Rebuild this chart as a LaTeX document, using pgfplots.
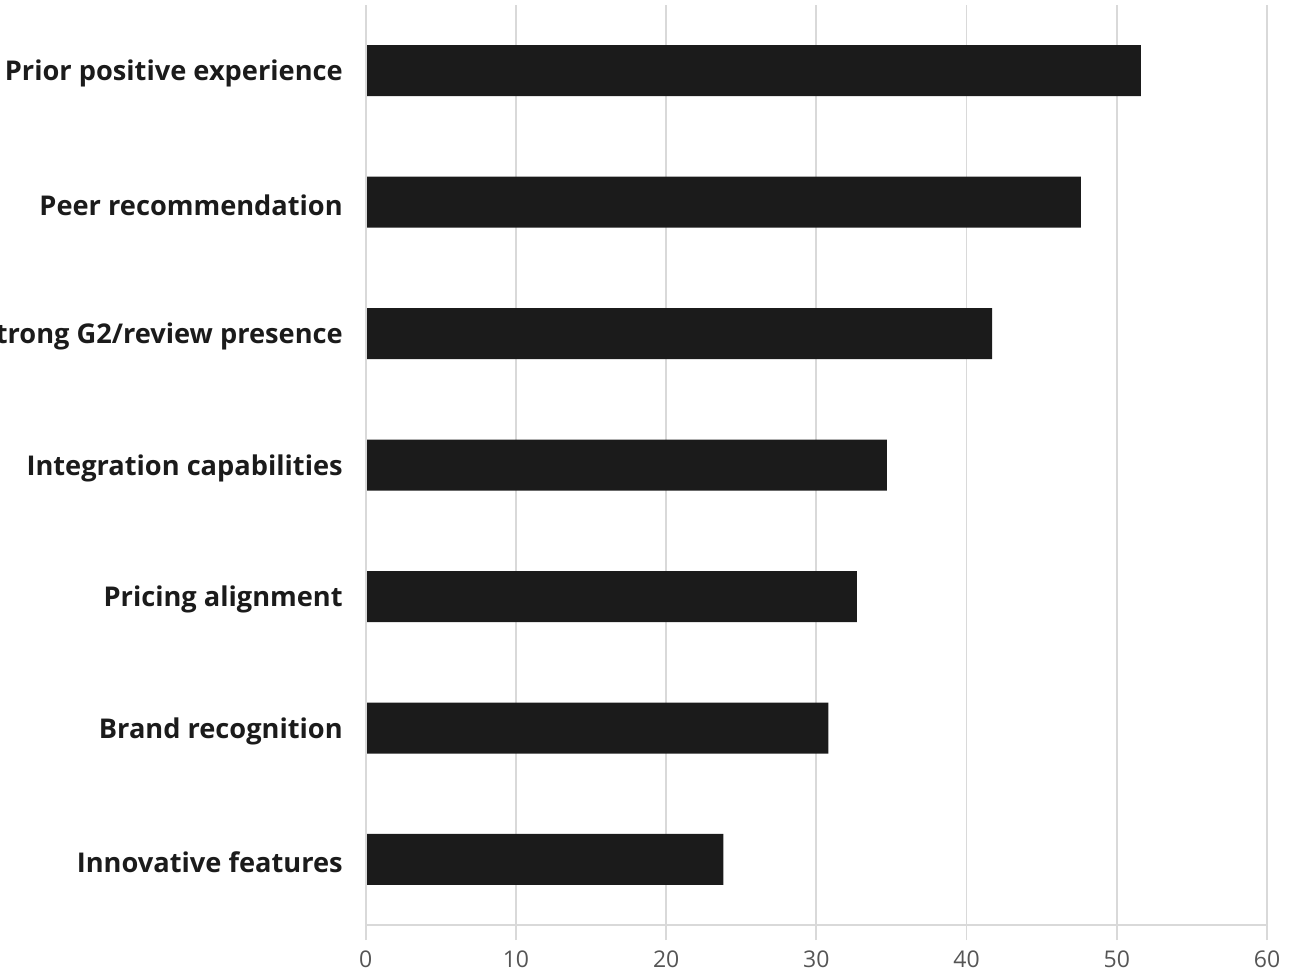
\documentclass[border=0pt]{standalone}
\usepackage{pgfplots}
\pgfplotsset{compat=1.18}
\usepackage{fontspec}
\setmainfont{Open Sans}
\definecolor{barc}{HTML}{1B1B1B}
\definecolor{gridc}{HTML}{D9D9D9}
\definecolor{tickc}{HTML}{555555}
\begin{document}
\begin{tikzpicture}
\begin{axis}[
  scale only axis,
  width=450.5pt, height=460pt,
  xbar, bar width=25.5pt,
  xmin=0, xmax=60,
  ymin=-0.5, ymax=6.5,
  xtick={0,10,20,30,40,50,60},
  ytick={0,1,2,3,4,5,6},
  yticklabels={Innovative features,Brand recognition,Pricing alignment,Integration capabilities,Strong G2/review presence,Peer recommendation,Prior positive experience},
  yticklabel style={font=\fontsize{13.6}{16}\selectfont\bfseries, text=barc, xshift=-0.5pt, yshift=-1.5pt},
  xticklabel style={font=\fontsize{11.5}{13}\selectfont, text=tickc, yshift=-2pt},
  /pgf/number format/assume math mode=true,
  xmajorgrids, grid style={gridc, line width=0.9pt},
  axis line style={draw=none},
  axis x line*=bottom,
  x axis line style={draw=gridc, line width=0.9pt, -},
  y axis line style={draw=none},
  major tick length=7.5pt,
  xtick style={draw=gridc, line width=0.9pt},
  ytick style={draw=none},
  tick align=outside,
  clip=false,
]
\addplot[fill=barc, draw=none] coordinates {
  (23.8,0) (30.8,1) (32.7,2) (34.7,3) (41.7,4) (47.6,5) (51.6,6)
};
\draw[gridc, line width=0.9pt] (axis cs:0,-0.5) -- (axis cs:0,6.5);
\coordinate (ll) at (rel axis cs:0,0);
\coordinate (ur) at (rel axis cs:1,1);
\end{axis}
\pgfresetboundingbox
\useasboundingbox ([xshift=-182.85pt,yshift=-23pt]ll) rectangle ([xshift=20pt,yshift=2.5pt]ur);
\end{tikzpicture}
\end{document}
